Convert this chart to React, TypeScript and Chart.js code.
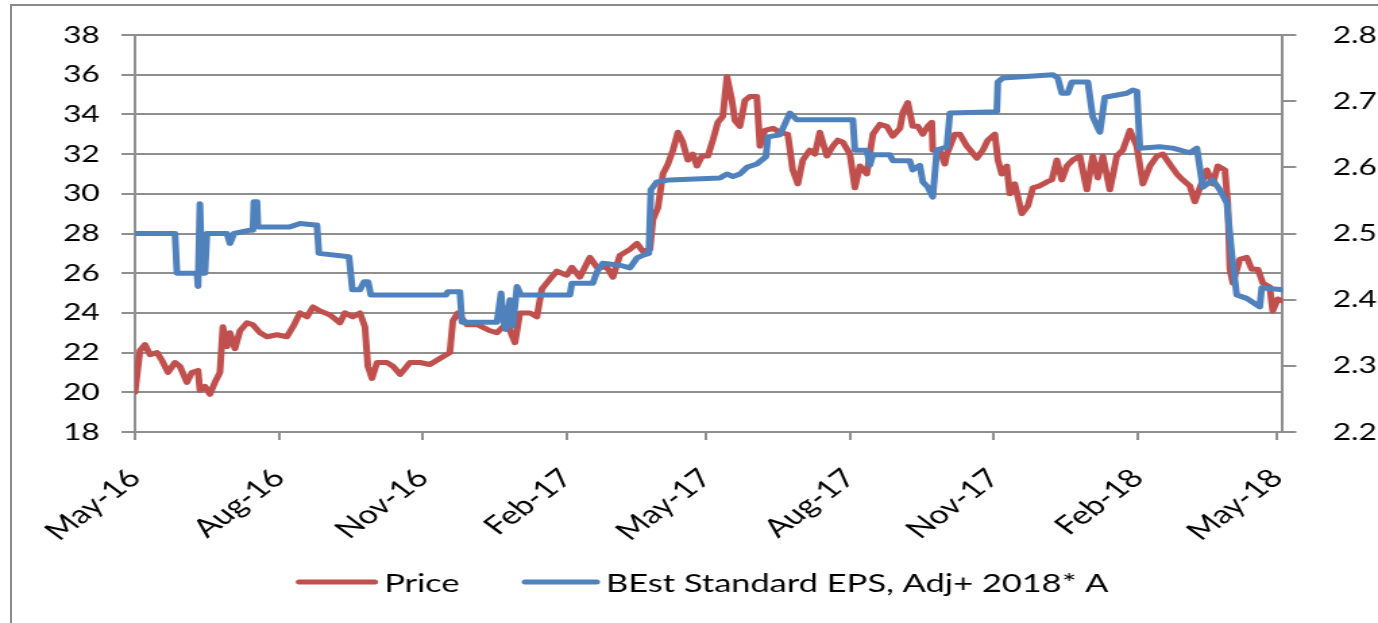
import React, { useEffect, useRef } from 'react';
import { Chart, registerables } from 'chart.js';

Chart.register(...registerables);

// ---------- data (x values = days counted from 1 May 2016) ----------
const tickDates = ['2016-05-01', '2016-08-01', '2016-11-01', '2017-02-01', '2017-05-01', '2017-08-01', '2017-11-01', '2018-02-01', '2018-05-01'];
const tickLabels = ['May-16', 'Aug-16', 'Nov-16', 'Feb-17', 'May-17', 'Aug-17', 'Nov-17', 'Feb-18', 'May-18'];
const xEndDay = 733.7;

const seriesNames = ['Price', 'BEst Standard EPS, Adj+ 2018* A'];

const leftMin = 18;
const leftMax = 38;
const leftStep = 2;
const rightMin = 2.2;
const rightMax = 2.8;
const rightStep = 0.1;

const priceDays = [
  0, 3.2, 6.4, 9.6, 14.1, 17.3, 21.1, 25.6, 28.8, 33.2,
  36.4, 40.3, 41.5, 44.7, 47.9, 51.1, 54.3, 56.2, 58.8, 60.7,
  63.9, 67.1, 71.6, 75.4, 79.9, 84.4, 90.8, 97.1, 101, 105.5,
  109.9, 113.8, 118.2, 124.6, 131, 134.2, 139.3, 143.8, 147, 148.9,
  151.5, 154.7, 161.1, 165, 169.5, 175.8, 182.2, 188.5, 194.9, 201.3,
  203.2, 206.4, 212.2, 219.2, 226.9, 231.4, 237.8, 242.9, 246.1, 252.5,
  256.9, 260.1, 265.2, 269.7, 276.1, 279.3, 284.4, 290.8, 295.3, 301.7,
  305.5, 310, 316.4, 320.9, 324.7, 329.2, 331.1, 334.3, 337.5, 340.7,
  343.9, 347.1, 350.2, 353.4, 356.6, 359.2, 362.4, 366.2, 369.4, 372.6,
  375.8, 378.4, 381.6, 383.5, 386.7, 389.9, 393.1, 397.5, 399.5, 402.7,
  407.8, 412.2, 417.3, 420.5, 423.7, 426.9, 431.4, 434.6, 437.8, 442.3,
  446.1, 449.3, 452.5, 457, 460.2, 463.4, 467.8, 471.7, 476.2, 480.6,
  484.5, 489, 490.9, 494, 497.2, 500.4, 503.6, 506.8, 509.4, 510,
  514.5, 517.7, 519, 524.1, 527.3, 531.8, 538.2, 542, 545.2, 549.7,
  551.6, 554.1, 557.3, 559.2, 562.4, 566.9, 570.8, 574, 578.4, 582.9,
  586.1, 589.3, 592.5, 595.7, 599.5, 604, 608.5, 612.3, 615.5, 618.7,
  623.2, 627.6, 631.5, 636, 640.4, 644.3, 648.8, 653.3, 657.1, 661.5,
  666, 669.8, 674.3, 677.5, 680.7, 685.2, 689, 692.2, 696.7, 698.6,
  699.9, 701.8, 706.3, 710.7, 713.9, 717.8, 721, 725.4, 727.3, 730.5,
  733.7,
];
const priceValues = [
  20.0, 22.1, 22.4, 21.9, 22.0, 21.6, 21.0, 21.5, 21.3, 20.5,
  21.0, 21.1, 20.1, 20.3, 19.9, 20.5, 21.0, 23.3, 22.3, 23.0,
  22.2, 23.1, 23.5, 23.4, 23.0, 22.8, 22.9, 22.8, 23.3, 24.0,
  23.8, 24.3, 24.1, 23.9, 23.5, 24.0, 23.8, 24.0, 23.3, 21.3,
  20.7, 21.5, 21.5, 21.3, 20.9, 21.5, 21.5, 21.4, 21.7, 22.0,
  23.6, 24.0, 23.4, 23.4, 23.1, 23.0, 23.5, 22.5, 24.0, 24.0,
  23.8, 25.2, 25.7, 26.1, 25.9, 26.3, 25.8, 26.8, 26.3, 26.3,
  25.8, 26.9, 27.2, 27.5, 27.1, 27.2, 28.7, 29.3, 31.0, 31.5,
  32.2, 33.1, 32.6, 31.7, 32.0, 31.4, 31.9, 31.9, 32.7, 33.6,
  33.9, 35.9, 34.7, 33.7, 33.4, 34.7, 34.9, 34.9, 32.4, 33.2,
  33.3, 33.1, 33.0, 31.2, 30.5, 31.7, 32.2, 32.0, 33.1, 31.9,
  32.4, 32.7, 32.6, 32.0, 30.3, 31.4, 31.0, 33.0, 33.5, 33.4,
  32.9, 33.3, 34.1, 34.6, 33.4, 33.4, 33.0, 33.4, 33.6, 32.2,
  32.2, 31.5, 32.0, 33.0, 33.0, 32.4, 31.8, 32.2, 32.7, 33.0,
  31.7, 31.0, 31.4, 30.0, 30.5, 29.0, 29.4, 30.3, 30.4, 30.6,
  30.7, 31.7, 30.7, 31.4, 31.7, 31.9, 30.2, 31.9, 30.8, 31.9,
  30.2, 31.9, 32.2, 33.2, 32.4, 30.5, 31.4, 31.9, 32.0, 31.5,
  31.0, 30.7, 30.4, 29.6, 30.3, 31.2, 30.5, 31.4, 31.2, 29.5,
  26.2, 25.5, 26.7, 26.8, 26.2, 26.2, 25.5, 25.3, 24.1, 24.7,
  24.6,
];

const epsDays = [
  0, 25.6, 26.8, 39.6, 40.3, 41.5, 42.8, 44.7, 46, 54.3,
  58.8, 60.7, 63.3, 73.5, 75.4, 76, 78, 78.6, 99, 105.5,
  115, 116.3, 117.6, 136.8, 139, 143.8, 146.4, 149, 150.8, 198.8,
  200, 207.7, 209, 231.4, 234, 235.5, 237, 239.7, 241.5, 244.2,
  246.7, 278, 279.3, 292.7, 295.3, 299, 310, 316.4, 320.9, 324.7,
  328.5, 329.8, 333.6, 341.9, 373.9, 378.4, 382.2, 386.7, 391.2, 397.5,
  403.3, 404.6, 412.2, 416.7, 418.6, 423.1, 458.9, 460.2, 467.8, 469.8,
  471.7, 482.6, 484.5, 495.3, 497.2, 501.7, 503.6, 506.8, 510, 512.6,
  519, 520.9, 550.9, 551.6, 554.8, 586.7, 589.9, 592.5, 596.3, 598.9,
  609.1, 612.3, 616.8, 620, 634, 637.9, 640.5, 642.4, 655.1, 663.4,
  674.3, 678.8, 682.6, 689, 693.5, 698, 701.1, 704.3, 710.7, 719,
  720.3, 733.7,
];
const epsValues = [
  2.50, 2.50, 2.44, 2.44, 2.42, 2.545, 2.44, 2.44, 2.50, 2.50,
  2.50, 2.485, 2.50, 2.505, 2.505, 2.548, 2.548, 2.51, 2.51, 2.515,
  2.513, 2.513, 2.47, 2.465, 2.415, 2.415, 2.427, 2.427, 2.407, 2.407,
  2.412, 2.412, 2.366, 2.366, 2.41, 2.37, 2.355, 2.40, 2.36, 2.42,
  2.407, 2.407, 2.425, 2.425, 2.442, 2.455, 2.452, 2.448, 2.463, 2.467,
  2.47, 2.566, 2.578, 2.581, 2.584, 2.59, 2.586, 2.59, 2.60, 2.605,
  2.616, 2.646, 2.649, 2.672, 2.682, 2.672, 2.672, 2.626, 2.626, 2.603,
  2.619, 2.619, 2.61, 2.61, 2.596, 2.603, 2.578, 2.57, 2.555, 2.626,
  2.631, 2.682, 2.684, 2.729, 2.735, 2.74, 2.735, 2.712, 2.712, 2.729,
  2.729, 2.676, 2.653, 2.706, 2.712, 2.717, 2.715, 2.629, 2.631, 2.629,
  2.622, 2.629, 2.57, 2.581, 2.566, 2.546, 2.47, 2.407, 2.402, 2.389,
  2.418, 2.415,
];

// ---------- styles ----------
const RED = '#C0504D';
const BLUE = '#4F81BD';
const GRID = '#8f8f8f';
const FONT = 'Lato';
const W = 1021;
const H = 623;
const STRETCH = 1378 / W;

const START = Date.UTC(2016, 4, 1);
const toDay = (iso: string) => {
  const [y, m, d] = iso.split('-').map(Number);
  return (Date.UTC(y, m - 1, d) - START) / 864e5;
};
const tickDays = tickDates.map(toDay);

// legend drawn below the axis labels, centred under the plot
const legendPlugin = {
  id: 'bottomLegend',
  afterDraw(chart: any) {
    const ctx = chart.ctx as CanvasRenderingContext2D;
    const colors = [RED, BLUE];
    const lineLens = [61, 58];
    const gap = 4.5;
    const itemGap = 46;
    const y = 582;
    ctx.save();
    ctx.font = `25.5px ${FONT}`;
    const widths = seriesNames.map((n) => ctx.measureText(n).width);
    const total = lineLens[0] + gap + widths[0] + itemGap + lineLens[1] + gap + widths[1];
    const cx = (chart.chartArea.left + chart.chartArea.right) / 2 - 5;
    let x = cx - total / 2;
    ctx.textBaseline = 'middle';
    ctx.textAlign = 'left';
    seriesNames.forEach((name, i) => {
      ctx.beginPath();
      ctx.lineCap = 'round';
      ctx.lineWidth = 5;
      ctx.strokeStyle = colors[i];
      ctx.moveTo(x + 2.5, y);
      ctx.lineTo(x + lineLens[i] - 2.5, y);
      ctx.stroke();
      x += lineLens[i] + gap;
      ctx.fillStyle = '#000';
      ctx.fillText(name, x, y + 1.5);
      x += widths[i] + itemGap;
    });
    ctx.restore();
  },
};

export default function App() {
  const ref = useRef<HTMLCanvasElement>(null);

  useEffect(() => {
    document.body.style.margin = '0';
    document.body.style.overflow = 'hidden';
    let chart: Chart | null = null;
    let cancelled = false;

    const make = () => {
      if (cancelled || !ref.current) return;
      const yFont = { family: FONT, size: 23.5 };
      const xFont = { family: FONT, size: 25.5 };
      chart = new Chart(ref.current, {
        type: 'line',
        data: {
          datasets: [
            {
              label: seriesNames[0],
              data: priceDays.map((d, i) => ({ x: d, y: priceValues[i] })),
              borderColor: RED,
              backgroundColor: RED,
              borderWidth: 5,
              pointRadius: 0,
              tension: 0,
              borderJoinStyle: 'round',
              borderCapStyle: 'round',
              yAxisID: 'y',
              order: 1,
            },
            {
              label: seriesNames[1],
              data: epsDays.map((d, i) => ({ x: d, y: epsValues[i] })),
              borderColor: BLUE,
              backgroundColor: BLUE,
              borderWidth: 5,
              pointRadius: 0,
              tension: 0,
              borderJoinStyle: 'round',
              borderCapStyle: 'round',
              yAxisID: 'y1',
              order: 0,
            },
          ],
        },
        options: {
          animation: false,
          responsive: true,
          maintainAspectRatio: false,
          layout: { padding: { left: 24, right: 0, top: 35, bottom: 56 } },
          plugins: {
            tooltip: { enabled: false },
            legend: { display: false },
          },
          scales: {
            x: {
              type: 'linear',
              min: 0,
              max: xEndDay,
              afterBuildTicks: (s: any) => {
                s.ticks = tickDays.map((v) => ({ value: v }));
              },
              afterFit: (s: any) => {
                s.height = 135;
              },
              grid: { drawOnChartArea: false, drawTicks: true, tickLength: 8, color: GRID, lineWidth: 2 },
              border: { display: true, color: GRID, width: 2 },
              ticks: {
                autoSkip: false,
                minRotation: 45,
                maxRotation: 45,
                padding: 23,
                font: xFont,
                color: '#000',
                callback: (v: any) => {
                  const i = tickDays.indexOf(Number(v));
                  return i >= 0 ? tickLabels[i] : '';
                },
              },
            },
            y: {
              position: 'left',
              min: leftMin,
              max: leftMax,
              afterFit: (s: any) => {
                s.width = 76;
                s.paddingTop = 0;
                s.paddingBottom = 0;
              },
              ticks: { stepSize: leftStep, padding: 16, font: yFont, color: '#000' },
              grid: { color: GRID, lineWidth: 2, tickLength: 10 },
              border: { display: true, color: GRID, width: 2 },
            },
            y1: {
              position: 'right',
              min: rightMin,
              max: rightMax,
              afterFit: (s: any) => {
                s.width = 70.6;
                s.paddingTop = 0;
                s.paddingBottom = 0;
              },
              ticks: {
                stepSize: rightStep,
                padding: 27,
                font: yFont,
                color: '#000',
                callback: (v: any) => Number(v).toFixed(1),
              },
              grid: { drawOnChartArea: false, color: GRID, lineWidth: 2, tickLength: 10 },
              border: { display: true, color: GRID, width: 2 },
            },
          },
        },
        plugins: [legendPlugin],
      } as any);
    };

    const fonts: any = (document as any).fonts;
    const ready = fonts
      ? Promise.all([fonts.load(`23.5px ${FONT}`), fonts.load(`25.5px ${FONT}`)]).catch(() => undefined)
      : Promise.resolve();
    ready.then(make);

    return () => {
      cancelled = true;
      if (chart) chart.destroy();
    };
  }, []);

  return (
    <div style={{ position: 'relative', width: 1378, height: H, overflow: 'hidden', background: '#fff' }}>
      <div
        style={{
          position: 'absolute',
          left: 0,
          top: 0,
          width: W,
          height: H,
          transform: `scaleX(${STRETCH})`,
          transformOrigin: '0 0',
        }}
      >
        <canvas ref={ref} />
      </div>
      <div
        style={{
          position: 'absolute',
          left: 10,
          top: 4,
          width: 1368,
          height: 619,
          boxSizing: 'border-box',
          borderLeft: '2.5px solid #8a8a8a',
          borderTop: '2.5px solid #8a8a8a',
          pointerEvents: 'none',
        }}
      />
    </div>
  );
}
